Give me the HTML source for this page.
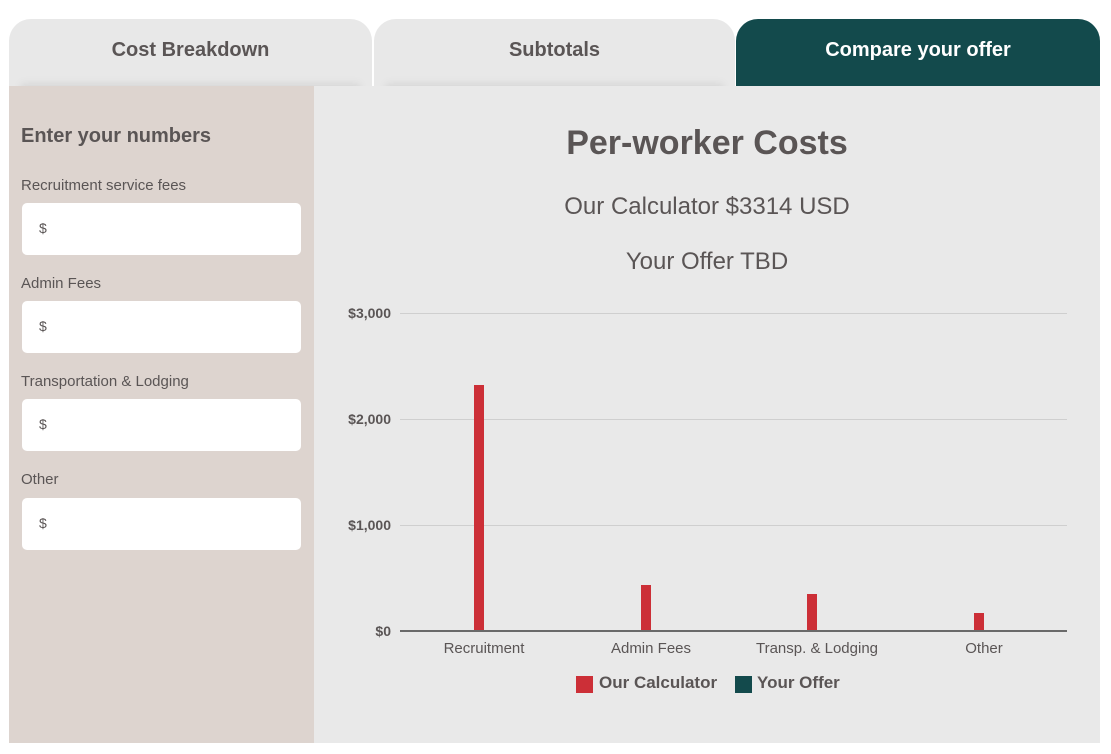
<!DOCTYPE html>
<html><head><style>
body{margin:0;width:1111px;height:754px;background:#fff;font-family:"Liberation Sans",sans-serif;position:relative;overflow:hidden}
.tab{position:absolute;top:19px;height:67px;border-radius:22px 22px 0 0;background:#e8e8e8;color:#5a5555;font-weight:bold;font-size:20px;text-align:center;line-height:62px;box-sizing:border-box;overflow:hidden}
.sh{position:absolute;top:62px;height:24px;left:12px;right:12px;background:linear-gradient(rgba(0,0,0,0),rgba(0,0,0,0.28));filter:blur(4px)}
.side{position:absolute;left:9px;top:86px;width:305px;height:657px;background:#ddd4cf}
.main{position:absolute;left:314px;top:86px;width:786px;height:657px;background:#e9e9e9}
.lbl{position:absolute;left:21px;font-size:15px;color:#5a5555}
.inp{position:absolute;left:22px;width:279px;height:52px;background:#fff;border-radius:5px;font-size:14px;color:#5a5555;line-height:50px;box-sizing:border-box;padding-left:17px}
.c{position:absolute;left:314px;width:786px;text-align:center;color:#5a5555}
.yl{position:absolute;left:330px;width:61px;text-align:right;font-size:14px;color:#5a5555;font-weight:bold}
.g{position:absolute;left:400px;width:667px;height:1px;background:#cfcfcf}
.bar{position:absolute;width:10px;background:#cc2f37}
.xl{position:absolute;top:640px;width:200px;text-align:center;font-size:15px;color:#5a5555}
</style></head><body>
<div class="tab" style="left:9px;width:363px">Cost Breakdown<div class="sh"></div></div>
<div class="tab" style="left:374px;width:361px">Subtotals<div class="sh"></div></div>
<div class="tab" style="left:736px;width:364px;background:#134a4c;color:#fff">Compare your offer</div>
<div class="side"></div>
<div class="main"></div>
<div style="position:absolute;left:21px;top:125px;font-size:20px;font-weight:bold;color:#5a5555">Enter your numbers</div>
<div class="lbl" style="top:177px">Recruitment service fees</div>
<div class="inp" style="top:203px">$</div>
<div class="lbl" style="top:275px">Admin Fees</div>
<div class="inp" style="top:301px">$</div>
<div class="lbl" style="top:373px">Transportation &amp; Lodging</div>
<div class="inp" style="top:399px">$</div>
<div class="lbl" style="top:471px">Other</div>
<div class="inp" style="top:498px">$</div>
<div class="c" style="top:124px;font-size:34px;font-weight:bold">Per-worker Costs</div>
<div class="c" style="top:193px;font-size:24px">Our Calculator $3314 USD</div>
<div class="c" style="top:248px;font-size:24px">Your Offer TBD</div>
<div class="g" style="top:313px"></div><div class="yl" style="top:305px">$3,000</div>
<div class="g" style="top:419px"></div><div class="yl" style="top:411px">$2,000</div>
<div class="g" style="top:525px"></div><div class="yl" style="top:517px">$1,000</div>
<div class="yl" style="top:623px">$0</div>
<div class="bar" style="left:474px;top:385px;height:246px"></div>
<div class="bar" style="left:641px;top:585px;height:46px"></div>
<div class="bar" style="left:807px;top:594px;height:37px"></div>
<div class="bar" style="left:974px;top:613px;height:18px"></div>
<div class="g" style="top:630px;height:2px;background:#6a6a6a"></div>
<div class="xl" style="left:384px">Recruitment</div>
<div class="xl" style="left:551px">Admin Fees</div>
<div class="xl" style="left:717px">Transp. &amp; Lodging</div>
<div class="xl" style="left:884px">Other</div>
<div style="position:absolute;left:576px;top:676px;width:17px;height:17px;background:#cc2f37"></div>
<div style="position:absolute;left:599px;top:673px;font-size:17px;font-weight:bold;color:#5a5555">Our Calculator</div>
<div style="position:absolute;left:735px;top:676px;width:17px;height:17px;background:#134a4c"></div>
<div style="position:absolute;left:757px;top:673px;font-size:17px;font-weight:bold;color:#5a5555">Your Offer</div>
</body></html>
